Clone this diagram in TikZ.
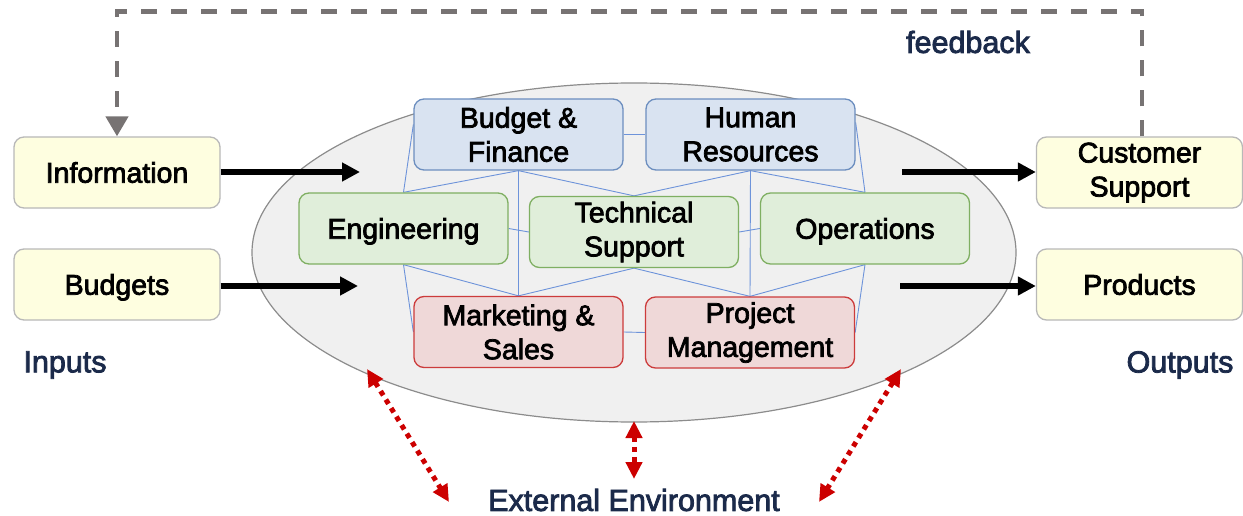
\documentclass[tikz,border=0pt]{standalone}
\usepackage{fontspec}
\setmainfont{Liberation Sans}
\newfontface\boxface{Liberation Sans}[RawFeature={embolden=2.6}]
\newfontface\tagface{Liberation Sans}[RawFeature={embolden=2.6}]
\usetikzlibrary{shapes.geometric,arrows.meta,calc}
\pgfdeclarelayer{bg}
\pgfsetlayers{bg,main}

\definecolor{blueFill}{HTML}{D9E3F1}
\definecolor{blueLine}{HTML}{6C8EBF}
\definecolor{greenFill}{HTML}{E0EEDA}
\definecolor{greenLine}{HTML}{7FAF62}
\definecolor{redFill}{HTML}{EFD8D8}
\definecolor{redLine}{HTML}{CC3B3B}
\definecolor{yellowFill}{HTML}{FEFEE0}
\definecolor{yellowLine}{HTML}{B8B8B8}
\definecolor{orgFill}{HTML}{F0F0F0}
\definecolor{orgLine}{HTML}{8C8C8C}
\definecolor{meshLine}{HTML}{6D93DA}
\definecolor{labelInk}{HTML}{1B2A4A}
\definecolor{fbGray}{HTML}{777373}
\definecolor{envRed}{HTML}{CC0000}

\tikzset{
  box/.style={rounded corners=10pt, line width=1.3pt, align=center,
    minimum width=209pt, minimum height=71pt, inner sep=0pt,
    font=\boxface\fontsize{28.5}{34}\selectfont},
  oneline/.style={text height=20.4pt, text depth=0pt},
  dept/.style={box, fill=blueFill, draw=blueLine},
  tech/.style={box, fill=greenFill, draw=greenLine},
  biz/.style={box, fill=redFill, draw=redLine},
  io/.style={box, fill=yellowFill, draw=yellowLine, minimum width=206pt},
  tag/.style={text=labelInk, font=\tagface\fontsize{30.5}{34}\selectfont, inner sep=0pt},
  mesh/.style={draw=meshLine, line width=0.9pt},
  flow/.style={line width=5.5pt, -{Triangle[length=18pt,width=18pt]}},
  fb/.style={draw=fbGray, line width=4.5pt, dash pattern=on 16pt off 14pt,
    -{Triangle[length=20pt,width=22pt]}},
  env/.style={draw=envRed, line width=5pt, dash pattern=on 5pt off 5pt,
    {Triangle[length=17pt,width=16pt]}-{Triangle[length=17pt,width=16pt]}}
}

\begin{document}
\begin{tikzpicture}[x=1pt,y=-1pt]
\useasboundingbox (0,0) rectangle (1243,516);

% departments inside the organisation
\node[dept] (bf) at (518.5,134.5) {Budget \&\\Finance};
\node[dept] (hr) at (750.5,134.5) {Human\\Resources};
\node[tech, oneline] (eng) at (403.5,228.5) {Engineering};
\node[tech] (ts) at (634,232) {Technical\\Support};
\node[tech, oneline] (ops) at (865,228.5) {Operations};
\node[biz] (mk) at (518.5,332) {Marketing \&\\Sales};
\node[biz] (pm) at (750,332.5) {Project\\Management};

% organisation boundary and the links between departments
\begin{pgfonlayer}{bg}
\node[ellipse, fill=orgFill, draw=orgLine, line width=1.2pt,
      minimum width=764pt, minimum height=339pt, inner sep=0pt] (org) at (634,252.5) {};
\draw[mesh] (bf.east) -- (hr.east -| hr.west);
\draw[mesh] (eng.east) -- (ts.west);
\draw[mesh] (ts.east) -- (ops.west);
\draw[mesh] (mk.east) -- (pm.west);
\draw[mesh] (eng.north) -- ([yshift=10pt]bf.west);
\draw[mesh] (ops.north) -- ([yshift=12pt]hr.east);
\draw[mesh] (eng.south) -- (mk.west);
\draw[mesh] (ops.south) -- (pm.east);
\draw[mesh] (eng.north) -- (bf.south) -- (ts.north) -- (hr.south) -- (ops.north);
\draw[mesh] (eng.south) -- (mk.north) -- (ts.south) -- (pm.north) -- (ops.south);
\draw[mesh] (bf.south) -- (mk.north);
\draw[mesh] (hr.south) -- (pm.north);
\end{pgfonlayer}

% inputs and outputs
\node[io, oneline] (info) at (117,172.5) {Information};
\node[io, oneline] (bud) at (117,284.5) {Budgets};
\node[io] (cs) at (1139.5,172.5) {Customer\\Support};
\node[io, oneline] (prod) at (1139.5,284.5) {Products};

\coordinate (inA) at (360,172);
\coordinate (inB) at (358,286);
\coordinate (outA) at (902,172);
\coordinate (outB) at (900,286);
\draw[flow] (info.east |- inA) -- (inA);
\draw[flow] (bud.east |- inB) -- (inB);
\draw[flow] (outA) -- (cs.west |- outA);
\draw[flow] (outB) -- (prod.west |- outB);

% feedback loop
\draw[fb] ([xshift=2.5pt]cs.north) -- ++(0,-125) -| (info.north);
\node[tag] (fbl) at (968,42) {feedback};

% side labels
\node[tag] (inl) at (65,365) {Inputs};
\node[tag] (outl) at (1180,365) {Outputs};
\node[tag] (ext) at (634,500) {External Environment};

% exchanges with the external environment
\coordinate (eL1) at (367,369);
\coordinate (eL2) at (449,502);
\coordinate (eM1) at (634,421);
\coordinate (eM2) at (634,479);
\coordinate (eR1) at (901,369);
\coordinate (eR2) at (819,502);
\draw[env] (eL1) -- (eL2);
\draw[env] (eM1) -- (eM2);
\draw[env] (eR1) -- (eR2);
\end{tikzpicture}
\end{document}
